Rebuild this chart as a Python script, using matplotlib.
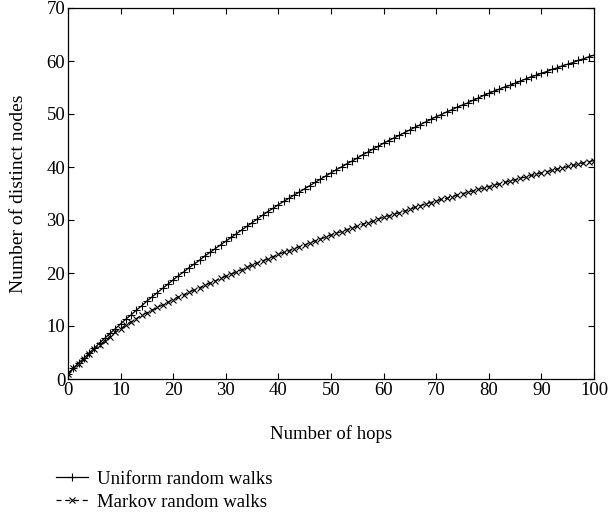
import matplotlib
matplotlib.use("Agg")
import matplotlib.pyplot as plt
import numpy as np

hops = list(range(0, 101))

uniform = [
    1.0, 2.0, 3.0, 3.9, 4.9, 5.8, 6.8, 7.7, 8.6, 9.5, 10.4,
    11.3, 12.1, 13.0, 13.8, 14.7, 15.5, 16.3, 17.1, 17.9, 18.7,
    19.5, 20.2, 21.0, 21.7, 22.4, 23.2, 23.9, 24.6, 25.3, 26.0,
    26.7, 27.4, 28.1, 28.8, 29.5, 30.2, 30.9, 31.6, 32.2, 32.9,
    33.5, 34.1, 34.7, 35.3, 35.9, 36.5, 37.1, 37.7, 38.3, 38.9,
    39.5, 40.0, 40.6, 41.1, 41.7, 42.3, 42.8, 43.4, 43.9, 44.5,
    45.0, 45.5, 46.0, 46.5, 47.0, 47.5, 48.0, 48.5, 49.0, 49.5,
    49.9, 50.4, 50.8, 51.3, 51.7, 52.1, 52.6, 53.0, 53.5, 53.9,
    54.3, 54.7, 55.1, 55.4, 55.8, 56.2, 56.6, 57.0, 57.3, 57.7,
    58.0, 58.4, 58.7, 59.1, 59.4, 59.7, 60.1, 60.4, 60.8, 61.1,
]

markov = [
    1.0, 2.0, 2.9, 3.8, 4.7, 5.6, 6.4, 7.2, 8.0, 8.8, 9.5,
    10.2, 10.8, 11.4, 12.0, 12.5, 13.0, 13.5, 14.0, 14.5, 15.0,
    15.5, 15.9, 16.4, 16.8, 17.2, 17.7, 18.1, 18.5, 19.0, 19.4,
    19.8, 20.2, 20.6, 21.1, 21.5, 21.9, 22.3, 22.7, 23.1, 23.5,
    23.9, 24.2, 24.6, 25.0, 25.3, 25.7, 26.1, 26.4, 26.8, 27.2,
    27.5, 27.8, 28.2, 28.5, 28.8, 29.2, 29.5, 29.8, 30.2, 30.5,
    30.8, 31.1, 31.4, 31.7, 32.0, 32.4, 32.7, 33.0, 33.3, 33.6,
    33.9, 34.1, 34.4, 34.7, 35.0, 35.2, 35.5, 35.8, 36.0, 36.3,
    36.6, 36.8, 37.1, 37.3, 37.6, 37.9, 38.1, 38.4, 38.6, 38.9,
    39.1, 39.4, 39.6, 39.8, 40.1, 40.3, 40.5, 40.8, 41.0, 41.2,
]

labels = ["Uniform random walks", "Markov random walks"]
xticks = list(range(0, 101, 10))
yticks = list(range(0, 71, 10))

plt.rcParams['font.family'] = ['Liberation Serif', 'DejaVu Serif']
plt.rcParams['font.size'] = 13.5

fig = plt.figure(figsize=(6.09, 5.16), dpi=100)
ax = fig.add_axes([68/609, 1-379/516, (594-68)/609, (379-8)/516])

ax.plot(hops, uniform, color='black', lw=0.9, ls='-', marker='+',
        ms=5.5, mew=0.8, label=labels[0])
ax.plot(hops, markov, color='black', lw=0.9, ls=(0, (4, 3)), marker='x',
        ms=4, mew=0.8, label=labels[1])

ax.set_xlim(0, 100)
ax.set_ylim(0, 70)
ax.set_xticks(xticks)
ax.set_yticks(yticks)
ax.tick_params(direction='in', top=True, right=True, length=4, width=0.8,
               labelsize=13.5, pad=2, colors='black')
for s in ax.spines.values():
    s.set_linewidth(0.9)
ax.set_xlabel("Number of hops", fontsize=13.5, labelpad=19)
ax.set_ylabel("Number of distinct nodes", fontsize=14, labelpad=14)

handles, labs = ax.get_legend_handles_labels()
fig.legend(handles, labs, loc='upper left', bbox_to_anchor=(50/609, 1-465/516),
           frameon=False, fontsize=13.5, handlelength=1.75, handletextpad=0.45,
           labelspacing=0.32, borderaxespad=0, borderpad=0.3)

fig.savefig("out.png", dpi=100)
